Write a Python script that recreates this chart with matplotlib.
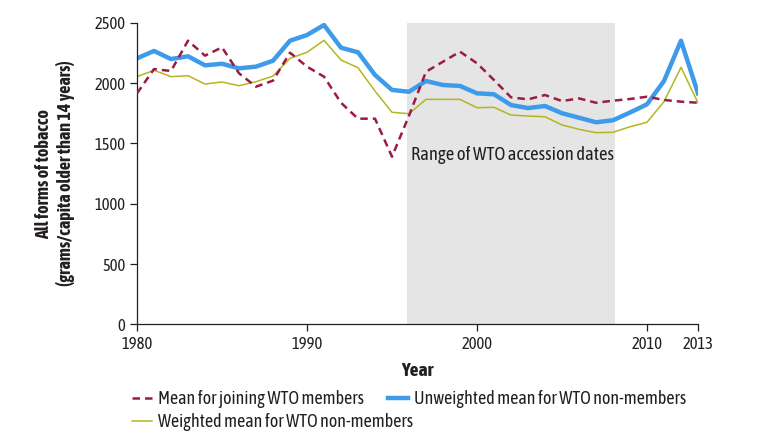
import numpy as np
import matplotlib
matplotlib.use('Agg')
import matplotlib.pyplot as plt

plt.rcParams['font.family'] = ['Asap Condensed', 'DejaVu Sans']

years = np.arange(1980, 2014)

# mean for joining WTO members
joining = [1915, 2116, 2100, 2351, 2227, 2296, 2081, 1970, 2020, 2252,
           2136, 2053, 1837, 1705, 1705, 1390, 1730, 2094, 2177, 2260,
           2164, 2025, 1882, 1865, 1901, 1851, 1873, 1837, 1854, 1868,
           1887, 1860, 1846, 1837]

# unweighted mean for non-members
unweighted = [2205, 2266, 2199, 2222, 2147, 2160, 2122, 2136, 2185, 2351,
              2398, 2481, 2293, 2255, 2067, 1943, 1928, 2017, 1984, 1976,
              1915, 1907, 1818, 1793, 1810, 1750, 1713, 1675, 1692, 1756,
              1824, 2017, 2351, 1915]

# weighted mean for non-members
weighted = [2053, 2106, 2053, 2061, 1992, 2009, 1978, 2011, 2058, 2205,
            2255, 2354, 2191, 2127, 1934, 1758, 1746, 1865, 1865, 1865,
            1796, 1799, 1735, 1727, 1721, 1653, 1617, 1589, 1592, 1638,
            1675, 1846, 2130, 1837]

wto_range = (1995.9, 2008.1)
xticks = [1980, 1990, 2000, 2010, 2013]
yticks = [0, 500, 1000, 1500, 2000, 2500]

fig = plt.figure(figsize=(7.71, 4.41), dpi=100)
ax = fig.add_axes([0.1777, 0.2642, 0.7276, 0.6843])

ax.axvspan(wto_range[0], wto_range[1], color='#e5e5e5', lw=0, zorder=0)
ax.text(wto_range[0] + 0.2, 1400, 'Range of WTO accession dates',
        fontsize=13.3, va='center', ha='left', color='#231f20')

l1, = ax.plot(years, joining, color='#9b1b45', lw=1.8, ls=(0, (3, 2)),
              label='Mean for joining WTO members', zorder=3)
l2, = ax.plot(years, unweighted, color='#3d9be9', lw=3.2,
              label='Unweighted mean for WTO non-members', zorder=2)
l3, = ax.plot(years, weighted, color='#b5b520', lw=1.1,
              label='Weighted mean for WTO non-members', zorder=2)

ax.set_xlim(1980, 2013)
ax.set_ylim(0, 2500)
ax.set_xticks(xticks)
ax.set_yticks(yticks)
ax.spines['top'].set_visible(False)
ax.spines['right'].set_visible(False)
for s in ['left', 'bottom']:
    ax.spines[s].set_color('#231f20')
    ax.spines[s].set_linewidth(0.9)
ax.tick_params(direction='out', length=5, width=0.9, colors='#231f20',
               labelsize=12)

ax.set_xlabel('Year', fontsize=14, fontweight='bold', color='#231f20', labelpad=6)
ax.set_ylabel('All forms of tobacco\n(grams/capita older than 14 years)',
              fontsize=13, fontweight='bold', color='#231f20', labelpad=14,
              multialignment='center')

leg_kw = dict(loc='upper left', frameon=False, fontsize=13, handlelength=1.1,
              handletextpad=0.36, labelspacing=0.3, borderpad=0,
              borderaxespad=0, labelcolor='#231f20')
fig.legend([l1, l3], [l1.get_label(), l3.get_label()],
           bbox_to_anchor=(0.1708, 0.116), **leg_kw)
fig.legend([l2], [l2.get_label()], bbox_to_anchor=(0.5032, 0.116), **leg_kw)

plt.savefig('out.png', dpi=100)
